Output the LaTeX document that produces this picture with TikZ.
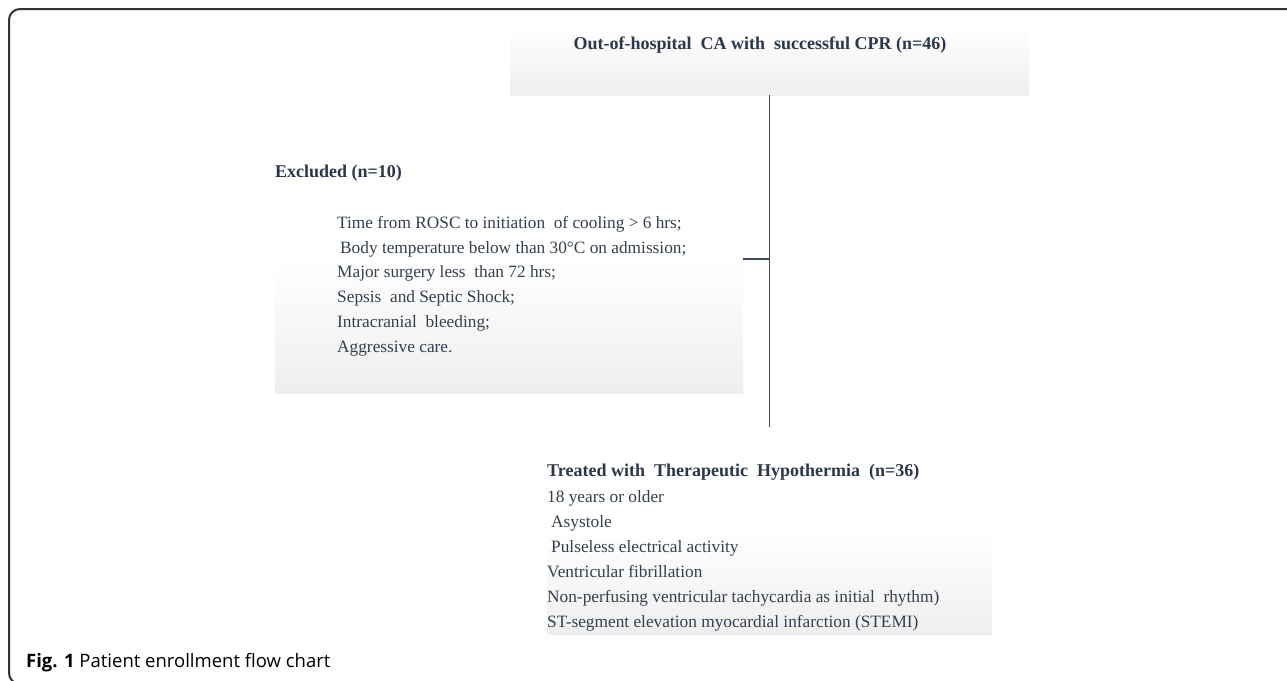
\documentclass[tikz,border=0pt]{standalone}
\usepackage{fontspec}
\setmainfont{Liberation Serif}
\newfontfamily\capfont{Open Sans}
\definecolor{txt}{HTML}{34404F}
\definecolor{ttl}{HTML}{2B384B}
\definecolor{conn}{HTML}{3B4A5E}
\pgfdeclareverticalshading{fadehalf}{100bp}{color(0bp)=(gray!13); color(25bp)=(gray!13); color(50bp)=(white); color(100bp)=(white)}
\pgfdeclareverticalshading{fadetop}{100bp}{color(0bp)=(gray!13); color(25bp)=(gray!13); color(72bp)=(white); color(100bp)=(white)}
\tikzset{
  box/.style={inner sep=0pt, outer sep=0pt},
  body/.style={anchor=base west, inner sep=0pt, text=txt, font=\fontsize{17.3}{20}\selectfont},
  title/.style={anchor=base west, inner sep=0pt, text=ttl, font=\fontsize{18}{20}\selectfont\bfseries},
  conn/.style={draw=conn, line width=1.3pt},
}
\begin{document}
\begin{tikzpicture}[x=1pt,y=-1pt]
\useasboundingbox (0,0) rectangle (1287,680);
\begin{scope}
\clip (0,0) rectangle (1287,680);
\draw[line width=2pt, color=black!80, rounded corners=11pt] (9,9) rectangle (1310,684);
\end{scope}
% boxes
\path[shading=fadetop] (510,22) rectangle (1029,95);
\node[box, minimum width=519pt, minimum height=73pt] (top) at (769.5,58.5) {};
\path[shading=fadehalf] (275,125) rectangle (743,393);
\node[box, minimum width=468pt, minimum height=268pt] (exc) at (509,259) {};
\path[shading=fadehalf] (547,427) rectangle (992,634);
\node[box, minimum width=445pt, minimum height=207pt] (trt) at (769.5,530.5) {};
% top text
\node[title, anchor=base] (toptitle) at (760,49) {Out-of-hospital\ \ CA with\ \ successful CPR (n=46)};
% excluded text
\node[title] (exct) at (275,177) {Excluded (n=10)};
\node[body] (e1) at (337,228) {Time\ from ROSC to initiation\ \ of cooling > 6 hrs;};
\node[body] (e2) at (337,253) {\hspace{3pt}Body temperature below than 30°C on admission;};
\node[body] (e3) at (337,277) {Major surgery less\ \ than 72 hrs;};
\node[body] (e4) at (337,302) {Sepsis\ \ and Septic Shock;};
\node[body] (e5) at (337,327) {Intracranial\ \ bleeding;};
\node[body] (e6) at (337,352) {Aggressive care.};
% treated text
\node[title] (tt) at (547,476) {Treated with\ \ Therapeutic\ \ Hypothermia\ \ (n=36)};
\node[body] (t1) at (547,502) {18 years or older};
\node[body] (t2) at (547,527) {\hspace{4pt}Asystole};
\node[body] (t3) at (547,552) {\hspace{4pt}Pulseless electrical activity};
\node[body] (t4) at (547,577) {Ventricular fibrillation};
\node[body] (t5) at (547,602) {Non-perfusing ventricular tachycardia as initial\ \ rhythm)};
\node[body] (t6) at (547,627) {ST-segment elevation myocardial infarction (STEMI)};
% connectors
\coordinate (jn) at (769.5,259);
\draw[conn] (top.south) -- (trt.north);
\draw[conn] (jn) -- (exc.east);
% caption
\node[anchor=base west, inner sep=0pt, font=\capfont\fontsize{18.5}{20}\selectfont] (cap) at (26,667) {\textbf{Fig. 1} Patient enrollment flow chart};
\end{tikzpicture}
\end{document}
